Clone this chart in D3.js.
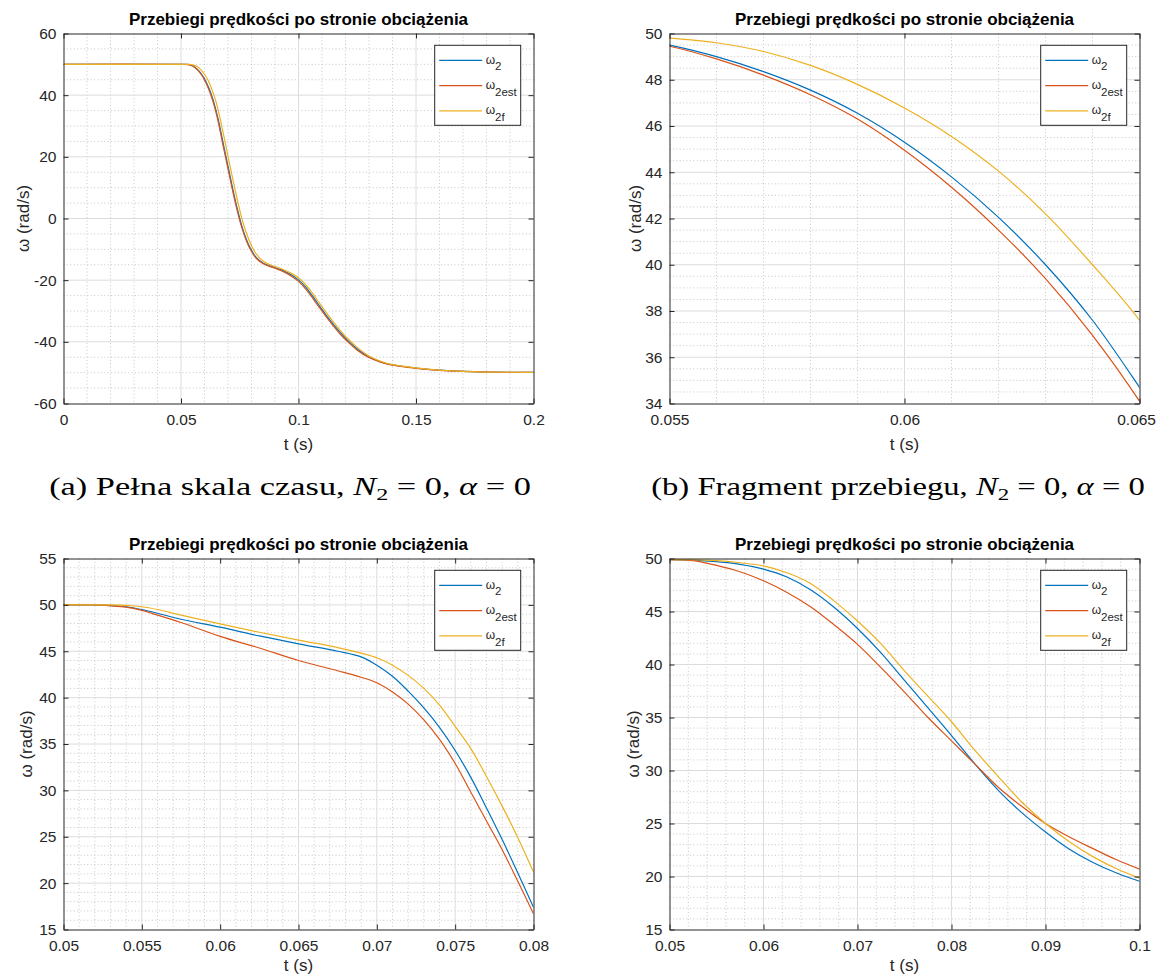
<!DOCTYPE html>
<html>
<head>
<meta charset="utf-8">
<script src="https://cdn.jsdelivr.net/npm/d3@7"></script>
<style>
  body { margin: 0; background: #fff; }
  svg { display: block; }
</style>
</head>
<body>
<svg id="fig" width="1157" height="978"></svg>
<script>
// ---- Scenario N2 = 0, alpha = 0 (panels a and b) ----
const tA = [0, 0.05, 0.053, 0.054, 0.055, 0.056, 0.057, 0.058, 0.059, 0.06, 0.061, 0.062, 0.063, 0.064, 0.065,
  0.066, 0.068, 0.07, 0.072, 0.074, 0.076, 0.078, 0.08, 0.082, 0.085, 0.088, 0.091, 0.094, 0.097, 0.1,
  0.103, 0.106, 0.109, 0.112, 0.115, 0.118, 0.121, 0.125, 0.13, 0.135, 0.14, 0.145, 0.15, 0.16, 0.17, 0.18, 0.2];
const w2A = [50, 50, 49.97, 49.82, 49.5, 49.0, 48.35, 47.55, 46.55, 45.3, 43.8, 42.05, 40.0, 37.6, 34.7,
  31.6, 24.2, 17.0, 9.7, 3.0, -2.7, -7.1, -10.3, -12.6, -14.5, -15.4, -16.2, -17.1, -18.3, -19.9,
  -22.2, -25.2, -28.4, -31.6, -34.5, -37.2, -39.6, -42.3, -44.9, -46.5, -47.5, -48.0, -48.5, -49.2, -49.6, -49.8, -49.9];
const w2estA = [50, 50, 49.92, 49.75, 49.45, 48.9, 48.2, 47.35, 46.3, 44.95, 43.35, 41.5, 39.4, 36.95, 34.1,
  30.8, 23.3, 16.1, 8.9, 2.3, -3.3, -7.6, -10.7, -12.9, -14.7, -15.6, -16.4, -17.4, -18.7, -20.4,
  -22.8, -25.8, -29.0, -32.1, -35.0, -37.7, -40.0, -42.7, -45.1, -46.6, -47.6, -48.1, -48.6, -49.25, -49.6, -49.8, -49.9];
const w2fA = [50, 50, 50, 49.95, 49.8, 49.6, 49.22, 48.62, 47.8, 46.78, 45.55, 44.05, 42.2, 40.0, 37.6,
  34.6, 27.6, 20.2, 12.9, 6.0, -0.3, -5.1, -8.8, -11.5, -13.9, -15.0, -15.8, -16.7, -17.8, -19.2,
  -21.4, -24.3, -27.5, -30.7, -33.7, -36.5, -39.0, -41.8, -44.6, -46.3, -47.4, -47.95, -48.45, -49.15, -49.6, -49.8, -49.9];

// ---- Panel c ----
const tC = [0.05, 0.051, 0.052, 0.053, 0.054, 0.055, 0.056, 0.0575, 0.06, 0.0625, 0.065, 0.0675,
  0.069, 0.07, 0.071, 0.072, 0.073, 0.074, 0.075, 0.076, 0.077, 0.078, 0.079, 0.08];
const w2C = [50.0, 50.0, 50.0, 49.95, 49.8, 49.5, 49.1, 48.45, 47.6, 46.65, 45.8, 45.0,
  44.4, 43.5, 42.3, 40.7, 38.9, 36.8, 34.3, 31.4, 28.1, 24.7, 21.1, 17.4];
const w2estC = [50.0, 50.0, 50.0, 49.9, 49.75, 49.4, 48.9, 48.1, 46.6, 45.35, 44.0, 42.9,
  42.2, 41.6, 40.6, 39.3, 37.6, 35.5, 32.9, 29.8, 26.7, 23.6, 20.2, 16.7];
const w2fC = [50.0, 50.0, 50.0, 50.0, 49.95, 49.8, 49.5, 48.9, 47.95, 47.05, 46.2, 45.4,
  44.8, 44.3, 43.5, 42.4, 41.0, 39.2, 36.9, 34.5, 31.5, 28.3, 24.9, 21.2];

// ---- Panel d ----
const tD = [0.05, 0.0525, 0.055, 0.0575, 0.06, 0.0625, 0.065, 0.0675, 0.07, 0.0725, 0.075,
  0.0775, 0.08, 0.0825, 0.085, 0.0875, 0.09, 0.0925, 0.095, 0.0975, 0.1];
const w2D = [49.9, 49.85, 49.7, 49.45, 49.0, 48.25, 47.05, 45.4, 43.4, 41.1, 38.5,
  35.9, 33.3, 30.6, 28.1, 26.0, 24.2, 22.6, 21.35, 20.35, 19.55];
const w2estD = [49.9, 49.8, 49.35, 48.75, 47.9, 46.8, 45.45, 43.75, 41.9, 39.7, 37.4,
  35.0, 32.8, 30.6, 28.4, 26.6, 25.0, 23.75, 22.65, 21.6, 20.7];
const w2fD = [49.9, 49.88, 49.8, 49.6, 49.3, 48.65, 47.65, 46.0, 44.1, 41.95, 39.4,
  37.0, 34.6, 31.9, 29.4, 27.0, 25.0, 23.3, 21.9, 20.75, 19.85];

// ---- Tick values ----
const xTicksA = [0, 0.05, 0.1, 0.15, 0.2];
const yTicksA = [-60, -40, -20, 0, 20, 40, 60];
const xTicksB = [0.055, 0.06, 0.065];
const yTicksB = [34, 36, 38, 40, 42, 44, 46, 48, 50];
const xTicksC = [0.05, 0.055, 0.06, 0.065, 0.07, 0.075, 0.08];
const yTicksC = [15, 20, 25, 30, 35, 40, 45, 50, 55];
const xTicksD = [0.05, 0.06, 0.07, 0.08, 0.09, 0.1];
const yTicksD = [15, 20, 25, 30, 35, 40, 45, 50];

const legendSubs = ['2', '2est', '2f'];
const titleText = 'Przebiegi prędkości po stronie obciążenia';
const COLORS = ['#0072BD', '#D95319', '#EDB120'];
const SANS = '"Liberation Sans", Arial, Helvetica, sans-serif';
const SERIF = '"Liberation Serif", "Times New Roman", serif';
const INK = '#262626';

const svg = d3.select('#fig');

const panels = [
  { id: 'a', x0: 63.5, x1: 533.5, y0: 33.5, y1: 403.5, t: tA, series: [w2A, w2estA, w2fA],
    xDom: [0, 0.2], yDom: [-60, 60], xTicks: xTicksA, yTicks: yTicksA, xMinor: 0.01, yMinor: 5,
    ylabX: 23, xlabDy: 46 },
  { id: 'b', x0: 669.5, x1: 1139.5, y0: 33.5, y1: 403.5, t: tA, series: [w2A, w2estA, w2fA],
    xDom: [0.055, 0.065], yDom: [34, 50], xTicks: xTicksB, yTicks: yTicksB, xMinor: 0.001, yMinor: 0.5,
    ylabX: 634.5, xlabDy: 46 },
  { id: 'c', x0: 63.5, x1: 533.5, y0: 558.5, y1: 929.5, t: tC, series: [w2C, w2estC, w2fC],
    xDom: [0.05, 0.08], yDom: [15, 55], xTicks: xTicksC, yTicks: yTicksC, xMinor: 0.001, yMinor: 1,
    ylabX: 26, xlabDy: 41.5 },
  { id: 'd', x0: 669.5, x1: 1139.5, y0: 558.5, y1: 929.5, t: tD, series: [w2D, w2estD, w2fD],
    xDom: [0.05, 0.1], yDom: [15, 50], xTicks: xTicksD, yTicks: yTicksD, xMinor: 0.002, yMinor: 1,
    ylabX: 633, xlabDy: 41.5 }
];

const fmt = v => String(+v.toFixed(6));
const W = +svg.attr('width');

function minorSteps(dom, step, majors) {
  const n = Math.round((dom[1] - dom[0]) / step);
  return d3.range(n + 1).map(i => dom[0] + i * step)
    .filter(v => !majors.some(m => Math.abs(m - v) < step * 1e-3))
    .filter(v => Math.abs(v - dom[0]) > step * 1e-3 && Math.abs(v - dom[1]) > step * 1e-3);
}

function drawPanel(p) {
  const g = svg.append('g').attr('class', 'panel-' + p.id);
  const x = d3.scaleLinear().domain(p.xDom).range([p.x0, p.x1]);
  const y = d3.scaleLinear().domain(p.yDom).range([p.y1, p.y0]);

  // minor grid (dotted)
  const grid = g.append('g');
  minorSteps(p.xDom, p.xMinor, p.xTicks).forEach(v => {
    grid.append('line').attr('x1', x(v)).attr('x2', x(v)).attr('y1', p.y0).attr('y2', p.y1)
      .attr('stroke', '#c6c6c6').attr('stroke-width', 1).attr('stroke-dasharray', '1,2.4');
  });
  minorSteps(p.yDom, p.yMinor, p.yTicks).forEach(v => {
    grid.append('line').attr('y1', y(v)).attr('y2', y(v)).attr('x1', p.x0).attr('x2', p.x1)
      .attr('stroke', '#c6c6c6').attr('stroke-width', 1).attr('stroke-dasharray', '1,2.4');
  });
  // major grid (solid, light)
  p.xTicks.filter(v => v !== p.xDom[0] && v !== p.xDom[1]).forEach(v => {
    grid.append('line').attr('x1', x(v)).attr('x2', x(v)).attr('y1', p.y0).attr('y2', p.y1)
      .attr('stroke', '#dcdcdc').attr('stroke-width', 1);
  });
  p.yTicks.filter(v => v !== p.yDom[0] && v !== p.yDom[1]).forEach(v => {
    grid.append('line').attr('y1', y(v)).attr('y2', y(v)).attr('x1', p.x0).attr('x2', p.x1)
      .attr('stroke', '#dcdcdc').attr('stroke-width', 1);
  });

  // curves
  const clipId = 'clip-' + p.id;
  g.append('clipPath').attr('id', clipId).append('rect')
    .attr('x', p.x0).attr('y', p.y0).attr('width', p.x1 - p.x0).attr('height', p.y1 - p.y0);
  const line = d3.line().x(d => x(d[0])).y(d => y(d[1])).curve(d3.curveCatmullRom.alpha(0.5));
  const curves = g.append('g').attr('clip-path', `url(#${clipId})`);
  p.series.forEach((s, i) => {
    curves.append('path').datum(p.t.map((tv, k) => [tv, s[k]]))
      .attr('d', line).attr('fill', 'none').attr('stroke', COLORS[i]).attr('stroke-width', 1.2);
  });

  // axes on all four sides, ticks pointing inward
  const styleAxis = sel => {
    sel.selectAll('path.domain').attr('stroke', INK).attr('stroke-width', 1);
    sel.selectAll('.tick line').attr('stroke', INK).attr('stroke-width', 1);
    sel.selectAll('.tick text').attr('fill', INK).style('font-family', SANS).style('font-size', '15.5px');
  };
  const bottom = g.append('g').attr('transform', `translate(0,${p.y1})`)
    .call(d3.axisBottom(x).tickValues(p.xTicks).tickFormat(fmt).tickSizeInner(-5).tickSizeOuter(0).tickPadding(10))
    .call(styleAxis);
  // keep an edge label inside the page
  bottom.selectAll('.tick text').each(function () {
    const bb = this.getBBox();
    const tr = this.parentNode.transform.baseVal.consolidate();
    const ox = tr ? tr.matrix.e : 0;
    const over = ox + bb.x + bb.width - (W - 1);
    if (over > 0) d3.select(this).attr('x', -over);
  });
  g.append('g').attr('transform', `translate(0,${p.y0})`)
    .call(d3.axisTop(x).tickValues(p.xTicks).tickFormat('').tickSizeInner(-5).tickSizeOuter(0))
    .call(styleAxis);
  g.append('g').attr('transform', `translate(${p.x0},0)`)
    .call(d3.axisLeft(y).tickValues(p.yTicks).tickFormat(fmt).tickSizeInner(-5).tickSizeOuter(0).tickPadding(7))
    .call(styleAxis);
  g.append('g').attr('transform', `translate(${p.x1},0)`)
    .call(d3.axisRight(y).tickValues(p.yTicks).tickFormat('').tickSizeInner(-5).tickSizeOuter(0))
    .call(styleAxis);

  // title
  const cx = (p.x0 + p.x1) / 2;
  g.append('text').attr('x', cx).attr('y', p.y0 - 8.5).attr('text-anchor', 'middle')
    .style('font-family', SANS).style('font-size', '17px').style('font-weight', 'bold')
    .attr('fill', '#000').text(titleText);

  // axis labels
  g.append('text').attr('x', cx).attr('y', p.y1 + p.xlabDy).attr('text-anchor', 'middle')
    .style('font-family', SANS).style('font-size', '17px').attr('fill', INK).text('t (s)');
  const cy = (p.y0 + p.y1) / 2;
  g.append('text').attr('transform', `translate(${p.ylabX + 6},${cy}) rotate(-90)`)
    .attr('text-anchor', 'middle').style('font-family', SANS).style('font-size', '17px')
    .attr('fill', INK).text('ω (rad/s)');

  // legend
  const lw = 86, lh = 80;
  const lx = p.x1 - 12.8 - lw, ly = p.y0 + 11.8;
  const lg = g.append('g');
  lg.append('rect').attr('x', lx).attr('y', ly).attr('width', lw).attr('height', lh)
    .attr('fill', '#fff').attr('stroke', INK).attr('stroke-width', 1);
  legendSubs.forEach((sub, i) => {
    const ey = ly + 15 + i * 25.3;
    lg.append('line').attr('x1', lx + 4.5).attr('x2', lx + 47.5).attr('y1', ey).attr('y2', ey)
      .attr('stroke', COLORS[i]).attr('stroke-width', 1.2);
    const tx = lg.append('text').attr('x', lx + 51).attr('y', ey + 3.3)
      .style('font-family', SANS).style('font-size', '12px').attr('fill', INK);
    tx.append('tspan').text('ω');
    tx.append('tspan').attr('dy', 6.7).style('font-size', '11.5px').text(sub);
  });
}

panels.forEach(drawPanel);

// sub-figure captions
function caption(cx, baseline, label, phrase, targetW) {
  const t = svg.append('text').attr('x', cx).attr('y', baseline).attr('text-anchor', 'middle')
    .style('font-family', SERIF).style('font-size', '25px').attr('fill', '#000');
  t.append('tspan').text(`(${label}) ${phrase}, `);
  t.append('tspan').style('font-style', 'italic').text('N');
  t.append('tspan').attr('dy', 5).style('font-size', '17.5px').text('2');
  t.append('tspan').attr('dy', -5).text(' = 0, ');
  t.append('tspan').style('font-style', 'italic').text('α');
  t.append('tspan').text(' = 0');
  const w = t.node().getBBox().width;
  const sx = targetW / w;
  t.attr('transform', `translate(${cx},0) scale(${sx},1) translate(${-cx},0)`);
}
caption(290, 495, 'a', 'Pełna skala czasu', 482);
caption(898, 495, 'b', 'Fragment przebiegu', 494);
</script>
</body>
</html>
